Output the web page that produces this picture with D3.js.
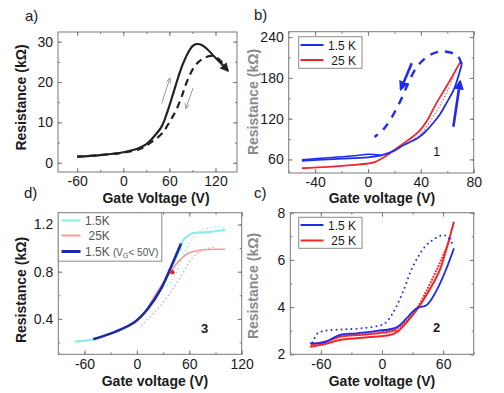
<!DOCTYPE html>
<html>
<head>
<meta charset="utf-8">
<script src="https://cdn.jsdelivr.net/npm/d3@7"></script>
<style>
  body { margin: 0; background: #fff; }
  svg { display: block; font-family: "Liberation Sans", Arial, sans-serif; }
</style>
</head>
<body>
<svg></svg>
<script>
// ---- panel a: black sweep up (solid) and down (dashed)
const aVoltUp = [-60, -30, 0, 20, 30, 40, 50, 58, 65, 72, 78, 85, 90, 95, 102, 110, 120, 128, 136];
const aResUp = [1.5, 1.9, 2.6, 3.6, 4.6, 6.5, 9, 13, 17.2, 21.5, 24.7, 27.5, 28.9, 29.4, 29.2, 28, 26, 24.5, 22.8];
const aVoltDown = [-60, -30, 0, 20, 30, 37, 45, 52, 58, 63, 69, 76, 82, 90, 98, 108, 118, 126, 136];
const aResDown = [1.5, 1.9, 2.5, 3.3, 4.2, 5.2, 6.3, 7.6, 9.4, 11, 13.1, 16.4, 19.7, 23, 25, 26.2, 26.4, 25.4, 22.8];
const aArrows = [[[50, 14.7], [60.5, 20.9]], [[90.8, 18.5], [81.4, 13.5]]];

// ---- panel b: sample 1
const bVoltBlue = [-50, -30, -10, 0, 10, 20, 25, 30, 38, 43, 50, 55, 60, 65, 68, 70, 71];
const bResBlue = [58, 60, 62, 63, 66, 73, 79, 84, 92, 100, 115, 128, 145, 163, 180, 193, 200];
const bVoltBlue2 = [-50, -30, -10, 0, 5, 10];
const bResBlue2 = [59.5, 62.5, 65.5, 67.5, 67, 66];
const bVoltBlueBack = [71, 68, 63, 55, 47, 40, 35, 30, 25, 18, 12, 5];
const bResBlueBack = [200, 212, 217, 219, 214, 203, 190, 170, 148, 122, 105, 93];
const bVoltRed = [-50, -30, -10, 0, 5, 10, 15, 20, 25, 30, 38, 45, 51, 58, 64, 70];
const bResRed = [47, 49, 52, 54, 56, 61, 67, 74, 81, 88, 100, 118, 140, 163, 183, 204];
const bVoltRedBack = [32, 40, 50, 60, 67];
const bResRedBack = [86, 98, 125, 160, 195];
const bArrows = [[[64.6, 108], [69.7, 174.6]], [[33.1, 201.5], [24.8, 163.3]]];
const bLegend = ["1.5 K", "25 K"];

// ---- panel c: sample 2
const cVoltBlue = [-70.7, -57.6, -41.2, -24.8, -5.2, 14.4, 24.2, 34, 43.9, 53.7, 62, 70.6];
const cResBlue = [2.47, 2.49, 2.82, 2.89, 2.99, 3.14, 3.53, 3.95, 4.09, 4.72, 5.5, 6.49];
const cVoltBlueBack = [-68, -63, -55, -40, -20, 0, 5, 10, 15, 22, 28, 35, 42, 50, 60, 66, 70];
const cResBlueBack = [2.5, 2.9, 3.0, 3.05, 3.1, 3.25, 3.4, 3.7, 4.1, 4.8, 5.5, 6.1, 6.55, 6.85, 7.05, 6.9, 6.6];
const cVoltRed = [-70.7, -55, -41.2, -20, 7.8, 15, 25, 34, 42, 50.3, 57, 62, 70.6];
const cResRed = [2.32, 2.45, 2.61, 2.7, 2.82, 2.95, 3.4, 3.88, 4.4, 5.01, 5.6, 6.28, 7.62];
const cVoltRed2 = [-70, -55, -40, -20, 0, 15];
const cResRed2 = [2.4, 2.55, 2.75, 2.82, 2.9, 3.02];
const cVoltRedBack = [-65, -50, -40, -20, 0, 15, 25, 35, 45, 55, 62, 68];
const cResRedBack = [2.45, 2.6, 2.78, 2.85, 2.95, 3.1, 3.45, 4.0, 4.8, 5.7, 6.4, 7.0];
const cLegend = ["1.5 K", "25 K"];

// ---- panel d: sample 3
const dVoltCyan = [-71, -50, -25, -2, 13, 28, 40, 50, 53, 58, 63, 78, 101];
const dResCyan = [0.207, 0.227, 0.29, 0.376, 0.49, 0.66, 0.85, 1.0, 1.069, 1.1, 1.125, 1.134, 1.153];
const dVoltCyanBack = [35, 43.6, 53, 63, 74, 93, 100];
const dResCyanBack = [0.68, 0.77, 0.94, 1.07, 1.15, 1.18, 1.17];
const dVoltNavy = [-50, -25, -2, 13, 28, 40, 50.5];
const dResNavy = [0.227, 0.29, 0.376, 0.49, 0.66, 0.857, 1.04];
const dVoltPink = [-50, -25, 0, 10, 20.8, 36, 47.5, 59, 74, 101];
const dResPink = [0.227, 0.29, 0.39, 0.47, 0.6, 0.77, 0.885, 0.956, 0.984, 0.99];
const dVoltPinkBack = [5.5, 20.8, 36, 51.3, 62.8, 74.3, 89.5];
const dResPinkBack = [0.348, 0.46, 0.6, 0.77, 0.91, 0.98, 1.01];
const dRedDot = [40.6, 0.795];
const dLegend = ["1.5K", "25K", "1.5K"];

let width = 504;
let height = 393;

const blue = "#1f2cf0";
const red = "#f2262a";
const cyan = "#86ecec";
const pink = "#f39a9a";
const navy = "#1d2aa8";
const frameColor = "#7a7a7a";

let svg = d3.select("svg").attr("width", width).attr("height", height);

const defs = svg.append("defs");
const addMarker = (id, size, color, open) => {
  const m = defs.append("marker")
    .attr("id", id)
    .attr("viewBox", "0 0 10 10")
    .attr("refX", 8)
    .attr("refY", 5)
    .attr("markerUnits", "userSpaceOnUse")
    .attr("markerWidth", size)
    .attr("markerHeight", size)
    .attr("orient", "auto");
  if (open) {
    m.append("path").attr("d", "M0,1 L9,5 L0,9").attr("fill", "none")
      .attr("stroke", color).attr("stroke-width", 1.2);
  } else {
    m.append("path").attr("d", "M0,0 L10,5 L0,10 Z").attr("fill", color);
  }
};
addMarker("headGray", 6, "#888", true);
addMarker("headBlack", 9, "#222", false);
addMarker("headBlue", 10, blue, false);

const makePanel = (p) => {
  const x = d3.scaleLinear().domain(p.xDom).range([p.left, p.right]);
  const y = d3.scaleLinear().domain(p.yDom).range([p.bottom, p.top]);

  const minorX = d3.range(Math.ceil(p.xDom[0] / p.xStep) * p.xStep, p.xDom[1] + 1e-9, p.xStep);
  const minorY = d3.range(Math.ceil(p.yDom[0] / p.yStep - 1e-9) * p.yStep, p.yDom[1] + 1e-9, p.yStep);

  const addAxis = (axis, transform, showText) => {
    const g = svg.append("g").attr("transform", transform).call(axis);
    g.select(".domain").remove();
    g.selectAll("line").attr("stroke", frameColor);
    if (showText) {
      g.selectAll("text").attr("fill", "#1a1a1a").style("font-size", "14px")
        .style("font-family", "'Liberation Sans', Arial, sans-serif");
    } else {
      g.selectAll("text").remove();
    }
  };

  // minor ticks on all sides
  addAxis(d3.axisBottom(x).tickValues(minorX).tickSize(-2).tickFormat(""), `translate(0,${p.bottom})`, false);
  addAxis(d3.axisTop(x).tickValues(minorX).tickSize(-2).tickFormat(""), `translate(0,${p.top})`, false);
  addAxis(d3.axisLeft(y).tickValues(minorY).tickSize(-2).tickFormat(""), `translate(${p.left},0)`, false);
  addAxis(d3.axisRight(y).tickValues(minorY).tickSize(-2).tickFormat(""), `translate(${p.right},0)`, false);

  // major ticks, labelled on bottom and left
  addAxis(d3.axisBottom(x).tickValues(p.xTicks).tickSizeInner(-4).tickSizeOuter(0).tickPadding(4.5)
    .tickFormat((d) => String(d)), `translate(0,${p.bottom})`, true);
  addAxis(d3.axisTop(x).tickValues(p.xTicks).tickSize(-4), `translate(0,${p.top})`, false);
  addAxis(d3.axisLeft(y).tickValues(p.yTicks).tickSizeInner(-4).tickSizeOuter(0).tickPadding(5)
    .tickFormat(p.yFormat), `translate(${p.left},0)`, true);
  addAxis(d3.axisRight(y).tickValues(p.yTicks).tickSize(-4), `translate(${p.right},0)`, false);

  svg.append("rect")
    .attr("x", p.left).attr("y", p.top)
    .attr("width", p.right - p.left).attr("height", p.bottom - p.top)
    .attr("fill", "none").attr("stroke", frameColor).attr("stroke-width", 1);

  return { x, y };
};

const drawCurve = (P, volts, res, color, w, dash, marker) => {
  const line = d3.line()
    .x((d) => P.x(d[0]))
    .y((d) => P.y(d[1]))
    .curve(d3.curveCatmullRom.alpha(0.5));
  const path = svg.append("path")
    .datum(d3.zip(volts, res))
    .attr("d", line)
    .attr("fill", "none")
    .attr("stroke", color)
    .attr("stroke-width", w)
    .attr("stroke-linecap", dash && dash.startsWith("0") ? "round" : "butt")
    .attr("stroke-linejoin", "round");
  if (dash) path.attr("stroke-dasharray", dash);
  if (marker) path.attr("marker-end", `url(#${marker})`);
  return path;
};

const drawArrows = (P, arrows, color, w, marker) => {
  svg.selectAll(null)
    .data(arrows)
    .enter()
    .append("line")
    .attr("x1", (d) => P.x(d[0][0]))
    .attr("y1", (d) => P.y(d[0][1]))
    .attr("x2", (d) => P.x(d[1][0]))
    .attr("y2", (d) => P.y(d[1][1]))
    .attr("stroke", color)
    .attr("stroke-width", w)
    .attr("marker-end", `url(#${marker})`);
};

const addText = (txt, x, y, opts = {}) => {
  const t = svg.append("text")
    .attr("x", x).attr("y", y)
    .attr("fill", opts.fill || "#1a1a1a")
    .style("font-size", (opts.size || 14) + "px")
    .style("font-weight", opts.bold ? "bold" : "normal")
    .attr("text-anchor", opts.anchor || "start")
    .text(txt);
  if (opts.rotate) t.attr("transform", `rotate(-90, ${x}, ${y})`);
  return t;
};

const addLegend = (box, rows) => {
  svg.append("rect")
    .attr("x", box[0]).attr("y", box[1])
    .attr("width", box[2]).attr("height", box[3])
    .attr("fill", "#fff").attr("stroke", "#8a8a8a");
  rows.forEach((r) => {
    svg.append("line")
      .attr("x1", r.x1).attr("x2", r.x2).attr("y1", r.y).attr("y2", r.y)
      .attr("stroke", r.color).attr("stroke-width", r.w);
  });
};

// ================= panel a
const A = makePanel({
  left: 58, right: 237, top: 32, bottom: 172,
  xDom: [-85, 148], yDom: [-2.3, 32.4],
  xTicks: [-60, 0, 60, 120], xStep: 30,
  yTicks: [0, 10, 20, 30], yStep: 5,
  yFormat: (d) => String(d),
});
drawCurve(A, aVoltDown, aResDown, "#222", 2.2, "7,5");
drawCurve(A, aVoltUp, aResUp, "#222", 2.2, null, "headBlack");
drawArrows(A, aArrows, "#999", 1, "headGray");

// ================= panel b
const B = makePanel({
  left: 288.7, right: 473.7, top: 31.7, bottom: 173,
  xDom: [-60, 80], yDom: [40, 248],
  xTicks: [-40, 0, 40, 80], xStep: 20,
  yTicks: [60, 120, 180, 240], yStep: 30,
  yFormat: (d) => String(d),
});
drawCurve(B, bVoltRedBack, bResRedBack, red, 1.3, "0,3.2");
drawCurve(B, bVoltRed, bResRed, red, 1.8);
drawCurve(B, bVoltBlue2, bResBlue2, blue, 1.6);
drawCurve(B, bVoltBlue, bResBlue, blue, 1.8);
drawCurve(B, bVoltBlueBack, bResBlueBack, blue, 2.4, "8,7");
drawArrows(B, bArrows, blue, 2.6, "headBlue");
addLegend([298.7, 36.7, 63.3, 31.6], [
  { x1: 300.5, x2: 323.5, y: 45, color: blue, w: 2 },
  { x1: 300.5, x2: 323.5, y: 60, color: red, w: 2 },
]);
addText(bLegend[0], 356, 49.5, { size: 12, anchor: "end" });
addText(bLegend[1], 356, 64.5, { size: 12, anchor: "end" });
addText("1", 433, 156, { size: 13 });

// ================= panel d
const D = makePanel({
  left: 58.3, right: 241.7, top: 212.7, bottom: 354.3,
  xDom: [-90, 120], yDom: [0.1, 1.3],
  xTicks: [-60, 0, 60, 120], xStep: 30,
  yTicks: [0.4, 0.8, 1.2], yStep: 0.2,
  yFormat: d3.format(".1f"),
});
drawCurve(D, dVoltPinkBack, dResPinkBack, pink, 1.6, "0,4");
drawCurve(D, dVoltCyanBack, dResCyanBack, cyan, 1.6, "0,4");
drawCurve(D, dVoltPink, dResPink, pink, 1.6);
drawCurve(D, dVoltCyan, dResCyan, cyan, 2);
drawCurve(D, dVoltNavy, dResNavy, navy, 2.6);
svg.append("circle")
  .attr("cx", D.x(dRedDot[0])).attr("cy", D.y(dRedDot[1]))
  .attr("r", 2.2).attr("fill", "#e8231d");
addLegend([58.3, 212.7, 103.5, 48.5], [
  { x1: 61.5, x2: 80.5, y: 220.5, color: cyan, w: 2 },
  { x1: 61.5, x2: 80.5, y: 235.5, color: pink, w: 2 },
  { x1: 61.5, x2: 80.5, y: 251.5, color: navy, w: 3 },
]);
addText(dLegend[0], 85, 225, { size: 12, fill: "#555" });
addText(dLegend[1], 88.5, 240, { size: 12, fill: "#555" });
const navyLabel = addText(dLegend[2] + " ", 85, 256, { size: 12, fill: "#555" });
navyLabel.append("tspan").style("font-size", "10px").text("(V");
navyLabel.append("tspan").style("font-size", "7px").attr("dy", 2).text("G");
navyLabel.append("tspan").style("font-size", "10px").attr("dy", -2).text("< 50V)");
addText("3", 201, 333, { size: 13, bold: true });

// ================= panel c
const C = makePanel({
  left: 290.3, right: 473.7, top: 212.7, bottom: 354.3,
  xDom: [-90, 90], yDom: [2, 8],
  xTicks: [-60, 0, 60], xStep: 30,
  yTicks: [2, 4, 6, 8], yStep: 1,
  yFormat: (d) => String(d),
});
drawCurve(C, cVoltRedBack, cResRedBack, red, 2.2, "0,3");
drawCurve(C, cVoltRed2, cResRed2, red, 1.6);
drawCurve(C, cVoltRed, cResRed, red, 2);
drawCurve(C, cVoltBlue, cResBlue, blue, 1.8);
drawCurve(C, cVoltBlueBack, cResBlueBack, blue, 2, "0,5");
addLegend([298.7, 217.3, 63.3, 31], [
  { x1: 300.5, x2: 323.5, y: 225, color: blue, w: 2 },
  { x1: 300.5, x2: 323.5, y: 240.5, color: red, w: 2 },
]);
addText(cLegend[0], 356, 229.5, { size: 12, anchor: "end" });
addText(cLegend[1], 356, 245, { size: 12, anchor: "end" });
addText("2", 433, 332, { size: 13, bold: true });

// ================= labels
addText("a)", 25, 21, { size: 15 });
addText("b)", 254, 20, { size: 15 });
addText("d)", 24, 198, { size: 15 });
addText("c)", 254, 198, { size: 15 });

addText("Gate Voltage (V)", 156, 203, { bold: true, anchor: "middle" });
addText("Gate voltage (V)", 382, 203, { bold: true, anchor: "middle" });
addText("Gate voltage (V)", 155, 385.5, { bold: true, anchor: "middle" });
addText("Gate voltage (V)", 382, 385.5, { bold: true, anchor: "middle" });

addText("Resistance (k\u03A9)", 25.5, 97.5, { bold: true, anchor: "middle", rotate: true });
addText("Resistance (k\u03A9)", 25.5, 290, { bold: true, anchor: "middle", rotate: true });
addText("Resistance (k\u03A9)", 258, 102, { bold: true, anchor: "middle", rotate: true, fill: "#8a8a8a" });
addText("Resistance (k\u03A9)", 258, 286, { bold: true, anchor: "middle", rotate: true, fill: "#8a8a8a" });
</script>
</body>
</html>
